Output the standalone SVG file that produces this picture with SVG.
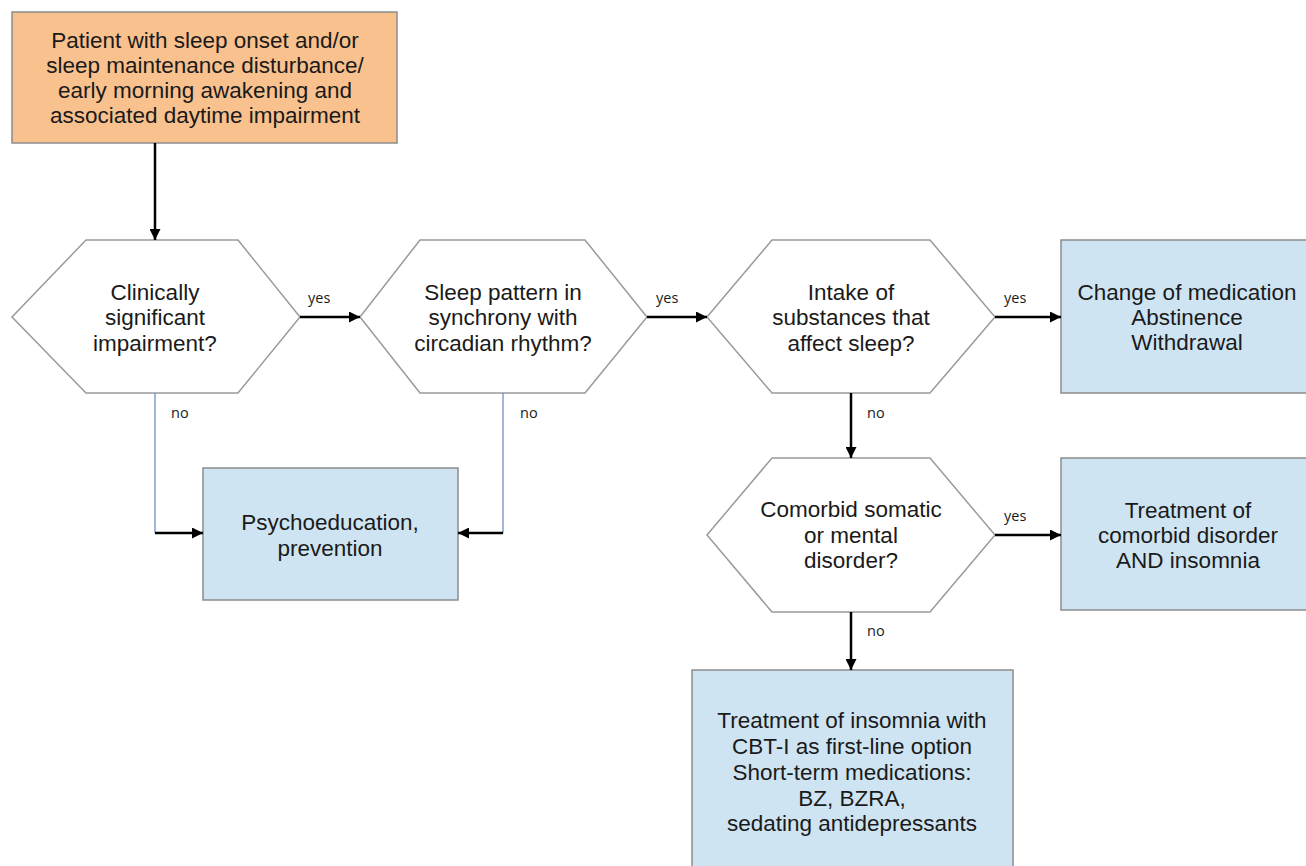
<svg xmlns="http://www.w3.org/2000/svg" width="1306" height="866" viewBox="0 0 1306 866">
<style>
.t{font-family:"Liberation Sans",Arial,sans-serif;font-size:22.5px;fill:#1a1a1a;text-anchor:middle}
.l{font-family:"Open Sans","Liberation Sans",sans-serif;font-size:14.5px;fill:#1a1a1a}
.hex{fill:#fff;stroke:#9a9a9a;stroke-width:1.5}
.box{fill:#cfe4f2;stroke:#8c8c8c;stroke-width:1.5}
.a{stroke:#000;stroke-width:2.5;fill:none;marker-end:url(#ah)}
.thin{stroke:#6f8fc8;stroke-width:1.3;fill:none}
</style>
<defs>
<marker id="ah" viewBox="0 0 10 10" refX="10" refY="5" markerWidth="4.4" markerHeight="4.4" markerUnits="strokeWidth" orient="auto">
<path d="M0,0 L10,5 L0,10 Z" fill="#000"/>
</marker>
</defs>
<rect width="1306" height="866" fill="#fff"/>

<g id="start">
<rect x="12" y="12" width="385" height="131" fill="#f9c18e" stroke="#8c8c8c" stroke-width="1.5"/>
<text class="t" x="205" y="48">Patient with sleep onset and/or</text>
<text class="t" x="205" y="73">sleep maintenance disturbance/</text>
<text class="t" x="205" y="98">early morning awakening and</text>
<text class="t" x="205" y="123">associated daytime impairment</text>
</g>

<g id="q1">
<polygon class="hex" points="12,317 86,240 238,240 300,317 238,393 86,393"/>
<text class="t" x="155" y="300">Clinically</text>
<text class="t" x="155" y="325">significant</text>
<text class="t" x="155" y="351">impairment?</text>
</g>

<g id="q2">
<polygon class="hex" points="360,317 420,240 585,240 647,317 585,393 420,393"/>
<text class="t" x="503" y="300">Sleep pattern in</text>
<text class="t" x="503" y="325">synchrony  with</text>
<text class="t" x="503" y="351">circadian rhythm?</text>
</g>

<g id="q3">
<polygon class="hex" points="707,317 772,240 930,240 995,317 930,393 772,393"/>
<text class="t" x="851" y="300">Intake  of</text>
<text class="t" x="851" y="325">substances that</text>
<text class="t" x="851" y="351">affect sleep?</text>
</g>

<g id="q4">
<polygon class="hex" points="707,535 772,458 930,458 995,535 930,612 772,612"/>
<text class="t" x="851" y="517">Comorbid somatic</text>
<text class="t" x="851" y="543">or mental</text>
<text class="t" x="851" y="568">disorder?</text>
</g>

<g id="change">
<rect class="box" x="1061" y="240" width="250" height="153"/>
<text class="t" x="1187" y="300">Change of medication</text>
<text class="t" x="1187" y="325">Abstinence</text>
<text class="t" x="1187" y="350">Withdrawal</text>
</g>

<g id="comorbid">
<rect class="box" x="1061" y="458" width="250" height="152"/>
<text class="t" x="1188" y="518">Treatment  of</text>
<text class="t" x="1188" y="543">comorbid disorder</text>
<text class="t" x="1188" y="568">AND insomnia</text>
</g>

<g id="psycho">
<rect class="box" x="203" y="468" width="255" height="132"/>
<text class="t" x="330" y="530">Psychoeducation,</text>
<text class="t" x="330" y="556">prevention</text>
</g>

<g id="insomnia">
<rect class="box" x="692" y="670" width="321" height="210"/>
<text class="t" x="852" y="728">Treatment  of insomnia with</text>
<text class="t" x="852" y="754">CBT-I as first-line option</text>
<text class="t" x="852" y="780">Short-term  medications:</text>
<text class="t" x="852" y="806">BZ, BZRA,</text>
<text class="t" x="852" y="831">sedating antidepressants</text>
</g>

<g id="connectors">
<path class="a" d="M155,143 V240"/>
<path class="a" d="M300,317 H360"/>
<path class="a" d="M647,317 H707"/>
<path class="a" d="M995,317 H1061"/>
<path class="a" d="M851,393 V458"/>
<path class="a" d="M995,535 H1061"/>
<path class="a" d="M851,612 V670"/>
<path class="thin" d="M155,393 V533"/>
<path class="a" d="M155,533 H203"/>
<path class="thin" d="M503,393 V533"/>
<path class="a" d="M503,533 H458"/>
<text class="l" x="308" y="303">yes</text>
<text class="l" x="656" y="303">yes</text>
<text class="l" x="1004" y="303">yes</text>
<text class="l" x="1004" y="521">yes</text>
<text class="l" x="171" y="418">no</text>
<text class="l" x="520" y="418">no</text>
<text class="l" x="867" y="418">no</text>
<text class="l" x="867" y="636">no</text>
</g>
</svg>
